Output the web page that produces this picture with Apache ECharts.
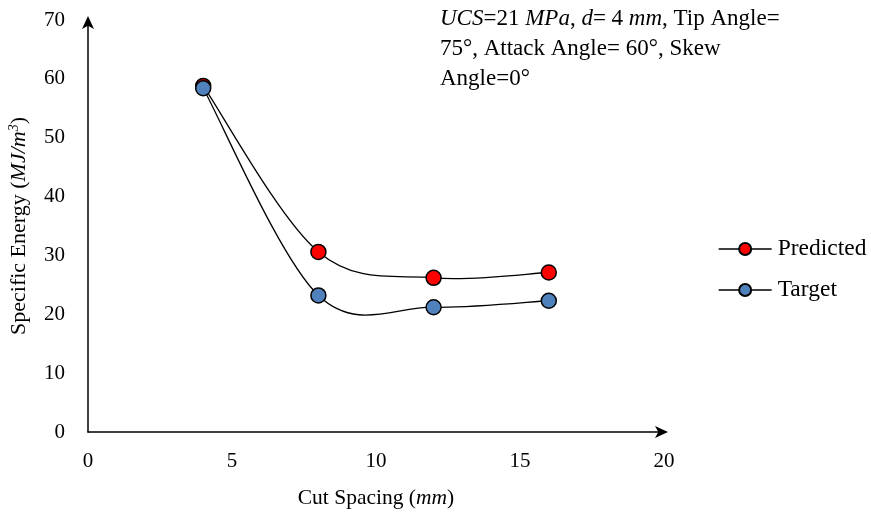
<!DOCTYPE html>
<html>
<head>
<meta charset="utf-8">
<script src="https://cdn.jsdelivr.net/npm/echarts@6/dist/echarts.min.js"></script>
<style>
  html, body { margin: 0; padding: 0; background: #fff; }
  #chart { width: 871px; height: 516px; }
</style>
</head>
<body>
<div id="chart"></div>
<script>
// Cut spacing (mm) and specific energy (MJ/m3)
const cutSpacing = [4, 8, 12, 16];
const predicted = [58.8, 30.6, 26.2, 27.1];
const target = [58.4, 23.2, 21.2, 22.3];
const xTicks = [0, 5, 10, 15, 20];
const yTicks = [0, 10, 20, 30, 40, 50, 60, 70];

const FONT = '"Liberation Serif", "Times New Roman", serif';

function pairs(xs, ys) {
  return xs.map((x, i) => [x, ys[i]]);
}

// Smoothed connector: Catmull-Rom style cubic segments (tension 1/6),
// computed in pixel space from the axis-mapped data points.
function smoothCurve(xs, ys) {
  return function (params, api) {
    const i = params.dataIndex;
    const n = xs.length;
    if (i >= n - 1) return null;
    const p = k => {
      const j = Math.max(0, Math.min(n - 1, k));
      return api.coord([xs[j], ys[j]]);
    };
    const p0 = p(i - 1), p1 = p(i), p2 = p(i + 1), p3 = p(i + 2);
    return {
      type: 'bezierCurve',
      shape: {
        x1: p1[0], y1: p1[1],
        x2: p2[0], y2: p2[1],
        cpx1: p1[0] + (p2[0] - p0[0]) / 6,
        cpy1: p1[1] + (p2[1] - p0[1]) / 6,
        cpx2: p2[0] - (p3[0] - p1[0]) / 6,
        cpy2: p2[1] - (p3[1] - p1[1]) / 6
      },
      style: { fill: null, stroke: '#000', lineWidth: 1.3 }
    };
  };
}

const chart = echarts.init(document.getElementById('chart'), null, { renderer: 'canvas' });

const markerBase = { borderColor: '#000', borderWidth: 1.5 };
const legendLine = { color: '#000', width: 1.3, opacity: 1 };

chart.setOption({
  animation: false,
  backgroundColor: '#fff',
  textStyle: { fontFamily: FONT, color: '#000' },
  grid: { left: 88, right: 207, top: 20, bottom: 84, containLabel: false, outerBoundsMode: 'none' },
  xAxis: {
    type: 'value',
    min: xTicks[0],
    max: xTicks[xTicks.length - 1],
    interval: 5,
    splitLine: { show: false },
    axisTick: { show: false },
    axisLine: { show: true, lineStyle: { color: '#000', width: 1.5 }, symbol: ['none', 'arrow'], symbolSize: [9, 13], symbolOffset: [0, 4] },
    axisLabel: { color: '#000', fontFamily: FONT, fontSize: 21, margin: 19 },
    name: '{n|Cut Spacing (}{i|mm}{n|)}',
    nameLocation: 'middle',
    nameGap: 55,
    nameTextStyle: {
      rich: {
        n: { fontFamily: FONT, fontSize: 21.5, color: '#000' },
        i: { fontFamily: FONT, fontSize: 21.5, color: '#000', fontStyle: 'italic' }
      }
    }
  },
  yAxis: {
    type: 'value',
    min: yTicks[0],
    max: yTicks[yTicks.length - 1],
    interval: 10,
    splitLine: { show: false },
    axisTick: { show: false },
    axisLine: { show: true, lineStyle: { color: '#000', width: 1.5 }, symbol: ['none', 'arrow'], symbolSize: [9, 13], symbolOffset: [0, 4] },
    axisLabel: { color: '#000', fontFamily: FONT, fontSize: 21, margin: 23 },
    name: '{n|Specific Energy (}{i|MJ/m}{s|3}{n|)}',
    nameLocation: 'middle',
    nameGap: 57,
    nameTextStyle: {
      rich: {
        n: { fontFamily: FONT, fontSize: 22, color: '#000' },
        i: { fontFamily: FONT, fontSize: 22, color: '#000', fontStyle: 'italic' },
        s: { fontFamily: FONT, fontSize: 14, color: '#000', fontStyle: 'italic', verticalAlign: 'top', padding: [0, 0, 10, 0] }
      }
    }
  },
  legend: {
    orient: 'vertical',
    left: 718,
    top: 237,
    padding: 0,
    itemWidth: 53,
    itemHeight: 15,
    itemGap: 17,
    textStyle: { fontFamily: FONT, fontSize: 23.5, color: '#000', lineHeight: 23, padding: [0, 0, 0, 1] },
    data: [
      { name: 'Predicted', lineStyle: legendLine },
      { name: 'Target', lineStyle: legendLine }
    ]
  },
  graphic: [{
    type: 'text',
    left: 440,
    top: 7,
    style: {
      text: '{i|UCS}{n|=21 }{i|MPa}{n|, }{i|d}{n|= 4 }{i|mm}{n|, Tip Angle=}\n{n|75°, Attack Angle= 60°, Skew}\n{n|Angle=0°}',
      rich: {
        n: { fontFamily: FONT, fontSize: 23, fill: '#000', lineHeight: 30 },
        i: { fontFamily: FONT, fontSize: 23, fill: '#000', fontStyle: 'italic', lineHeight: 30 }
      }
    }
  }],
  series: [
    {
      name: 'PredictedCurve',
      type: 'custom',
      renderItem: smoothCurve(cutSpacing, predicted),
      data: pairs(cutSpacing, predicted),
      encode: { x: 0, y: 1 },
      silent: true,
      z: 2
    },
    {
      name: 'TargetCurve',
      type: 'custom',
      renderItem: smoothCurve(cutSpacing, target),
      data: pairs(cutSpacing, target),
      encode: { x: 0, y: 1 },
      silent: true,
      z: 2
    },
    {
      name: 'Predicted',
      type: 'line',
      data: pairs(cutSpacing, predicted),
      symbol: 'circle',
      symbolSize: 15,
      lineStyle: { color: '#000', width: 0, opacity: 0 },
      itemStyle: Object.assign({ color: '#FF0000' }, markerBase),
      z: 3
    },
    {
      name: 'Target',
      type: 'line',
      data: pairs(cutSpacing, target),
      symbol: 'circle',
      symbolSize: 15,
      lineStyle: { color: '#000', width: 0, opacity: 0 },
      itemStyle: Object.assign({ color: '#4F81BD' }, markerBase),
      z: 4
    }
  ]
});
</script>
</body>
</html>
